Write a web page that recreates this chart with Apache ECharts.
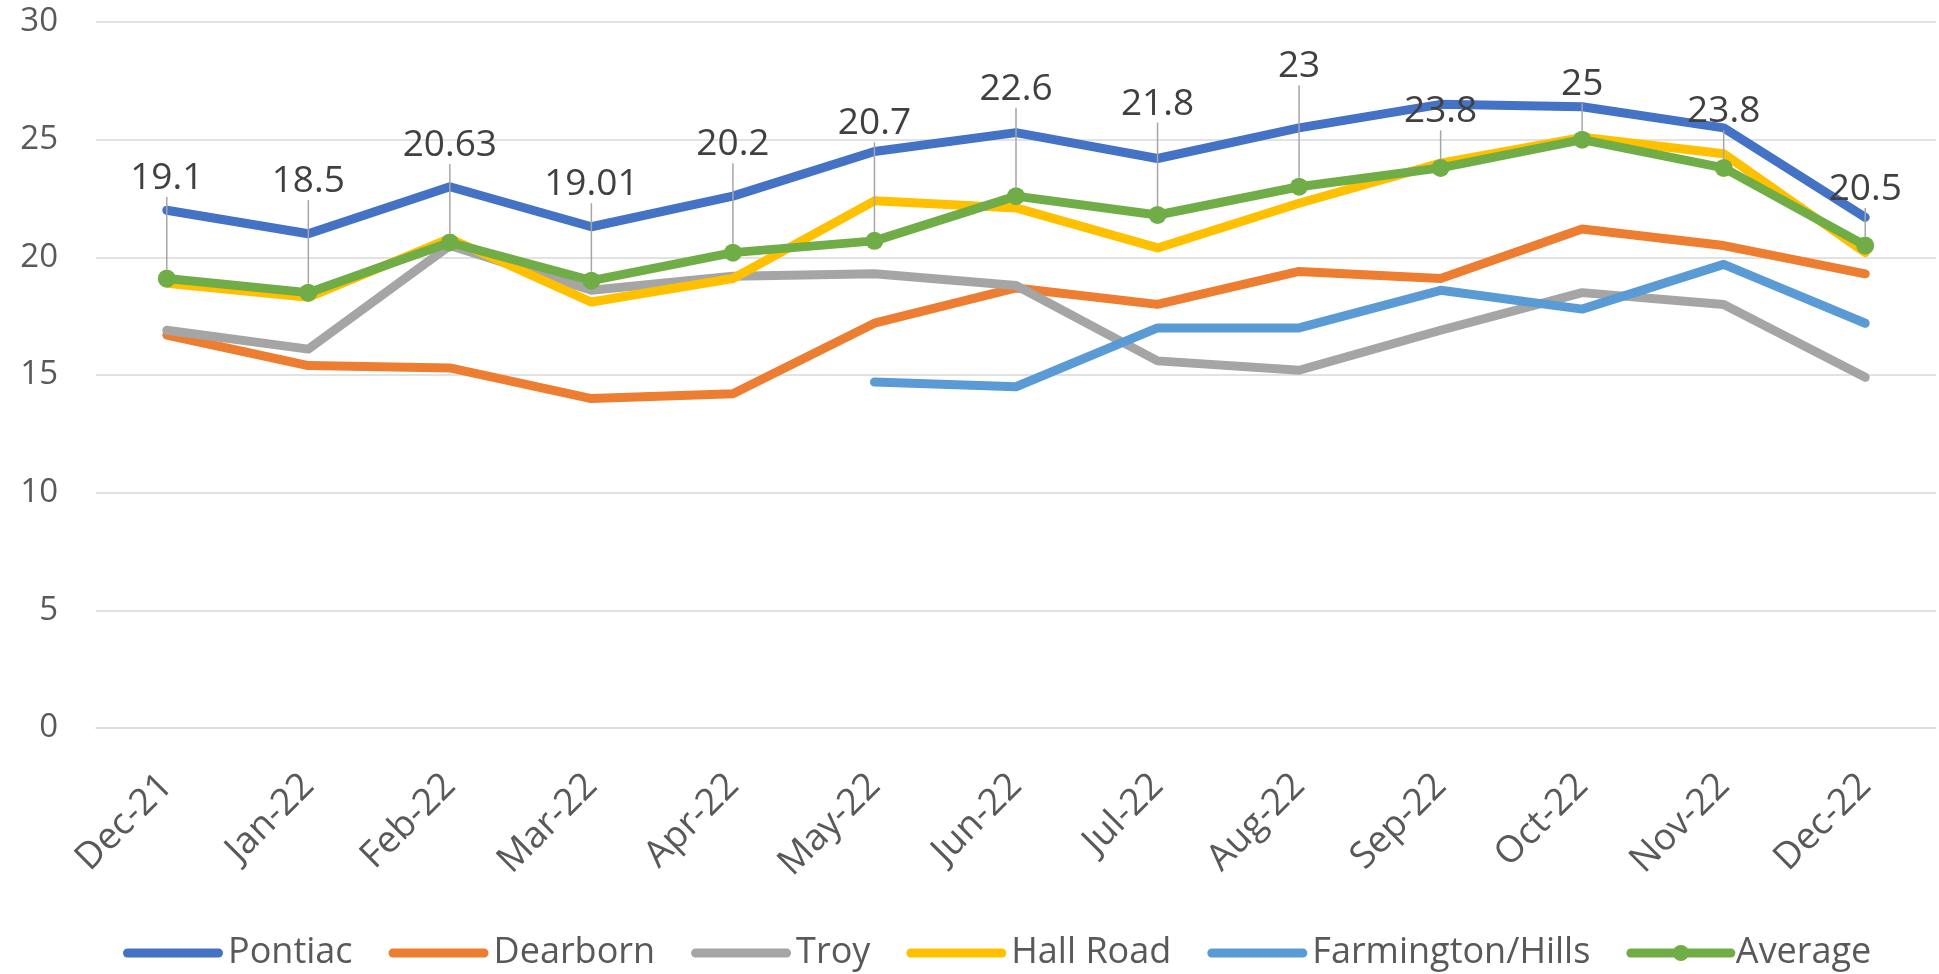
<!DOCTYPE html>
<html>
<head>
<meta charset="utf-8">
<script src="https://cdn.jsdelivr.net/npm/echarts@6/dist/echarts.min.js"></script>
<style>
  html, body { margin: 0; padding: 0; background: #fff; }
  #chart { width: 1939px; height: 974px; }
</style>
</head>
<body>
<div id="chart"></div>
<script>
// categories
const months = ['Dec-21', 'Jan-22', 'Feb-22', 'Mar-22', 'Apr-22', 'May-22', 'Jun-22',
  'Jul-22', 'Aug-22', 'Sep-22', 'Oct-22', 'Nov-22', 'Dec-22']

// series values
const pontiac = [22.0, 21.0, 23.0, 21.3, 22.6, 24.5, 25.3, 24.2, 25.5, 26.5, 26.4, 25.5, 21.7]
const dearborn = [16.7, 15.4, 15.3, 14.0, 14.2, 17.2, 18.7, 18.0, 19.4, 19.1, 21.2, 20.5, 19.3]
const troy = [16.9, 16.1, 20.5, 18.6, 19.2, 19.3, 18.8, 15.6, 15.2, 16.9, 18.5, 18.0, 14.9]
const hallRoad = [18.9, 18.3, 20.8, 18.1, 19.1, 22.4, 22.1, 20.4, 22.3, 24.0, 25.1, 24.4, 20.2]
const farmington = [null, null, null, null, null, 14.7, 14.5, 17.0, 17.0, 18.6, 17.8, 19.7, 17.2]
const average = [19.1, 18.5, 20.63, 19.01, 20.2, 20.7, 22.6, 21.8, 23, 23.8, 25, 23.8, 20.5]

// y axis ticks
const yTicks = { min: 0, max: 30, step: 5 }

// how far each Average label sits above its point (px)
const labelShift = [-100, -111, -97, -96, -108, -117, -107, -111, -120, -56, -55, -56, -56]

const chart = echarts.init(document.getElementById('chart'))

const FONT = 'Open Sans'
const lineW = 9
// plain thick line for the legend (no marker)
const lineIcon = 'path://M4.5,0 L95.5,0 A4.5,4.5 0 0 1 95.5,9 L4.5,9 A4.5,4.5 0 0 1 4.5,0 Z'

const plain = (name, data, color) => ({
  name,
  type: 'line',
  data,
  symbol: 'none',
  lineStyle: { color, width: lineW, cap: 'round', join: 'round' },
  itemStyle: { color }
})

const option = {
  animation: false,
  grid: { left: 96, right: 3, top: 22, bottom: 246 },
  xAxis: {
    type: 'category',
    data: months,
    boundaryGap: true,
    axisLine: { show: true, lineStyle: { color: '#D9D9D9', width: 1.5 } },
    axisTick: { show: false },
    axisLabel: {
      rotate: 45,
      margin: 52,
      color: '#595959',
      fontFamily: FONT,
      fontSize: 37
    }
  },
  yAxis: {
    type: 'value',
    min: yTicks.min,
    max: yTicks.max,
    interval: yTicks.step,
    axisLine: { show: false },
    axisTick: { show: false },
    splitLine: { lineStyle: { color: '#D9D9D9', width: 1.5 } },
    axisLabel: {
      margin: 38,
      color: '#595959',
      fontFamily: FONT,
      fontSize: 33
    }
  },
  legend: {
    left: 118,
    top: 930,
    itemWidth: 100,
    itemHeight: 20,
    itemGap: 36,
    lineStyle: { width: lineW },
    textStyle: { color: '#595959', fontFamily: FONT, fontSize: 36, padding: [0, 0, 0, 0] },
    data: [
      { name: 'Pontiac', icon: lineIcon },
      { name: 'Dearborn', icon: lineIcon },
      { name: 'Troy', icon: lineIcon },
      { name: 'Hall Road', icon: lineIcon },
      { name: 'Farmington/Hills', icon: lineIcon },
      { name: 'Average' }
    ]
  },
  series: [
    plain('Pontiac', pontiac, '#4472C4'),
    plain('Dearborn', dearborn, '#ED7D31'),
    plain('Troy', troy, '#A5A5A5'),
    plain('Hall Road', hallRoad, '#FFC000'),
    plain('Farmington/Hills', farmington, '#5B9BD5'),
    {
      name: 'Average',
      type: 'line',
      data: average,
      symbol: 'circle',
      symbolSize: 18,
      lineStyle: { color: '#70AD47', width: lineW, cap: 'round', join: 'round' },
      itemStyle: { color: '#70AD47' },
      label: {
        show: true,
        position: 'inside',
        color: '#404040',
        fontFamily: FONT,
        fontSize: 37
      },
      labelLine: {
        show: true,
        lineStyle: { color: '#A6A6A6', width: 1.5 }
      },
      labelLayout: function (p) {
        return { dy: labelShift[p.dataIndex] }
      }
    }
  ]
}

chart.setOption(option)
</script>
</body>
</html>
